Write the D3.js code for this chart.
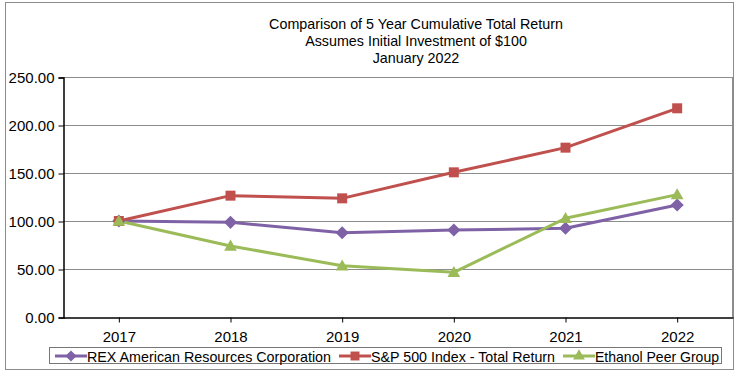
<!DOCTYPE html>
<html><head><meta charset="utf-8">
<script src="https://cdn.jsdelivr.net/npm/d3@7"></script>
<style>body{margin:0;background:#fff;}svg{display:block;font-family:Arial,"Liberation Sans",sans-serif;}</style>
</head><body><svg id="c" width="740" height="376"></svg>
<script>
const years = ["2017","2018","2019","2020","2021","2022"];
const rex = [100, 98.6, 87.8, 90.6, 92.4, 116.7];
const sp500 = [100, 126.4, 123.6, 150.7, 176.4, 217.4];
const ethanol = [100, 74.0, 53.3, 46.5, 102.8, 127.5];
const yTicks = [0, 50, 100, 150, 200, 250];
const seriesNames = ["REX American Resources Corporation", "S&P 500 Index - Total Return", "Ethanol Peer Group"];
const titleLines = ["Comparison of 5 Year Cumulative Total Return", "Assumes Initial Investment of $100", "January 2022"];

const colors = ["#7F62A6", "#C0504D", "#9BBB59"];
const shapes = [d3.symbolDiamond2, d3.symbolSquare, d3.symbolTriangle];
const series = [rex, sp500, ethanol];

const svg = d3.select("#c");
svg.append("rect").attr("x",5.5).attr("y",2.5).attr("width",728).attr("height",367)
  .attr("fill","#fff").attr("stroke","#8c8c8c").attr("stroke-width",1);

const L=63, R=733, T=77, B=317;
const x = d3.scalePoint().domain(years).range([L,R]).padding(0.5);
const y = d3.scaleLinear().domain([0,250]).range([B,T]);

// title
svg.append("g").selectAll("text").data(titleLines).join("text")
  .attr("x",416).attr("y",(d,i)=>29+i*17).attr("text-anchor","middle")
  .attr("font-size",14.3).attr("fill","#000").text(d=>d);

// gridlines
svg.append("g").selectAll("line").data(yTicks.filter(t=>t>0)).join("line")
  .attr("x1",L).attr("x2",R).attr("y1",d=>y(d)+0.5).attr("y2",d=>y(d)+0.5)
  .attr("stroke","#8c8c8c").attr("stroke-width",1);
svg.append("line").attr("x1",R-0.5).attr("x2",R-0.5).attr("y1",T).attr("y2",B).attr("stroke","#8c8c8c");

// y axis
const ya = svg.append("g").attr("transform",`translate(${L+0.5},0.5)`)
  .call(d3.axisLeft(y).tickValues(yTicks).tickFormat(d3.format(".2f")).tickSize(5).tickPadding(4));
ya.select(".domain").attr("stroke","#000").attr("stroke-width",1.5);
ya.selectAll(".tick line").attr("stroke","#000");
ya.selectAll("text").attr("font-size",15).attr("fill","#000").attr("font-family","Arial, 'Liberation Sans', sans-serif");

// x axis
const xa = svg.append("g").attr("transform",`translate(0,${B+0.5})`)
  .call(d3.axisBottom(x).tickSize(5).tickPadding(9).tickSizeOuter(0));
xa.select(".domain").attr("stroke","#000").attr("stroke-width",1.5);
xa.selectAll(".tick line").attr("stroke","#000");
xa.selectAll("text").attr("font-size",15).attr("fill","#000").attr("font-family","Arial, 'Liberation Sans', sans-serif");

// lines
const line = d3.line().x((d,i)=>x(years[i])).y(d=>y(d));
series.forEach((s,k)=>{
  svg.append("path").datum(s).attr("d",line).attr("fill","none")
    .attr("stroke",colors[k]).attr("stroke-width",3).attr("stroke-linejoin","round");
});
series.forEach((s,k)=>{
  const sym = d3.symbol().type(shapes[k]).size(k===2?70:k===1?100:110);
  svg.append("g").selectAll("path").data(s).join("path")
    .attr("transform",(d,i)=>`translate(${x(years[i])},${y(d)+(k===2?1:0)})`)
    .attr("d",sym).attr("fill",colors[k]);
});

// legend
const lg = svg.append("g");
lg.append("rect").attr("x",49.5).attr("y",347.5).attr("width",672).attr("height",16)
  .attr("fill","#fff").attr("stroke","#777");
const legX = [55, 339, 563];
const legW = [244, 184, 124];
seriesNames.forEach((n,k)=>{
  const g = lg.append("g").attr("transform",`translate(${legX[k]},356)`);
  g.append("line").attr("x1",0).attr("x2",32).attr("stroke",colors[k]).attr("stroke-width",3);
  g.append("path").attr("transform","translate(16,0)")
    .attr("d",d3.symbol().type(shapes[k]).size(k===2?60:80)()).attr("fill",colors[k]);
  g.append("text").attr("x",32).attr("y",5.5).attr("font-size",14.5).attr("fill","#000")
    .attr("textLength",legW[k]).attr("lengthAdjust","spacingAndGlyphs").text(n);
});
</script></body></html>
